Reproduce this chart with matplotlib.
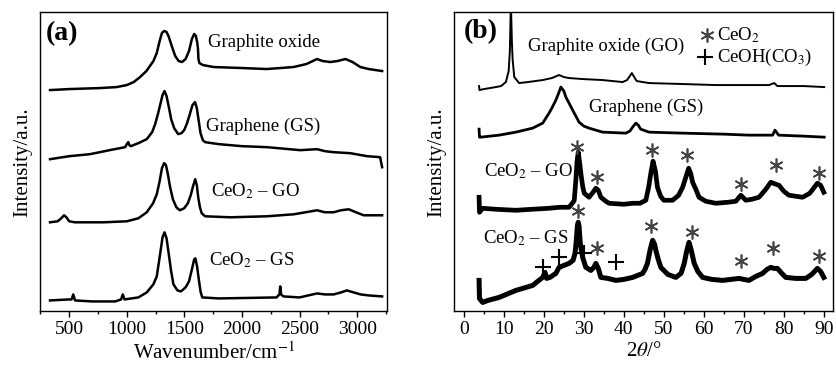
import matplotlib
matplotlib.use("Agg")
import matplotlib.pyplot as plt
from matplotlib.ticker import MultipleLocator

plt.rcParams['font.family'] = ['Liberation Serif', 'DejaVu Serif']
plt.rcParams['mathtext.fontset'] = 'stix'

# ---------------- (a) Raman spectra: (wavenumber, intensity a.u.) ----------------
go_raman_x = [333, 500, 767, 913, 1000, 1060, 1115, 1170, 1231, 1260, 1285, 1305, 1325, 1345,
              1365, 1390, 1420, 1450, 1480, 1510, 1540, 1565, 1585, 1600, 1612, 1618, 1622,
              1630, 1660, 1753, 2000, 2217, 2448, 2560, 2652, 2700, 2767, 2830, 2898, 2960,
              3028, 3100, 3217]
go_raman_y = [221, 222, 223, 224, 226, 229, 234, 240, 250, 258, 270, 278, 280, 279,
              274, 265, 255, 250, 249, 252, 260, 272, 277, 275, 268, 262, 252,
              248, 246, 244, 243, 242, 244, 247, 252, 250, 249, 250, 252, 249,
              244, 242, 240]

gs_raman_x = [333, 500, 680, 850, 985, 1005, 1013, 1022, 1035, 1100, 1173, 1220, 1246, 1270,
              1289, 1310, 1327, 1345, 1365, 1385, 1411, 1446, 1475, 1498, 1520, 1545, 1570,
              1592, 1608, 1622, 1640, 1660, 1680, 1800, 2000, 2217, 2507, 2652, 2720, 2796,
              2940, 3087, 3200, 3210, 3217]
gs_raman_y = [152, 155, 157, 161, 164, 168, 169, 166, 165, 168, 172, 179, 187, 197,
              206, 216, 220, 215, 204, 192, 183, 177, 178, 181, 187, 196, 206,
              209, 203, 192, 178, 171, 169, 167, 165, 164, 161, 162, 160, 159,
              158, 155, 154, 148, 144]

ceo2_go_raman_x = [333, 400, 430, 455, 475, 500, 550, 800, 1000, 1100, 1173, 1228, 1260, 1285,
                   1305, 1324, 1340, 1355, 1376, 1400, 1430, 1460, 1498, 1530, 1555, 1575,
                   1594, 1608, 1620, 1635, 1650, 1680, 1900, 2217, 2450, 2652, 2720, 2796,
                   2860, 2927, 2990, 3057, 3217]
ceo2_go_raman_y = [89, 90, 93, 96, 94, 90, 89, 89, 90, 93, 99, 108, 117, 130,
                   143, 148, 146, 138, 124, 112, 104, 101, 103, 108, 116, 125,
                   132, 126, 114, 104, 98, 95, 94, 95, 97, 101, 99, 99,
                   101, 102, 99, 96, 96]

ceo2_gs_raman_x = [333, 500, 520, 535, 550, 700, 900, 950, 965, 980, 1100, 1173, 1230, 1260,
                   1290, 1310, 1327, 1345, 1361, 1385, 1405, 1440, 1470, 1510, 1540, 1565,
                   1585, 1595, 1610, 1625, 1640, 1655, 1800, 2300, 2325, 2332, 2340, 2360,
                   2500, 2652, 2720, 2796, 2860, 2910, 2970, 3030, 3100, 3217]
ceo2_gs_raman_y = [11, 12, 12, 17, 11, 10, 10, 12, 17, 12, 14, 19, 27, 35,
                   58, 74, 79, 73, 60, 40, 27, 21, 20, 24, 30, 42,
                   52, 53, 45, 32, 20, 14, 13, 14, 17, 25, 17, 15,
                   14, 18, 17, 17, 19, 21, 19, 17, 16, 15]

# ---------------- (b) XRD patterns: (2theta, intensity a.u.) ----------------
go_xrd_x = [3.8, 3.9, 5, 8, 9.3, 10.5, 11.2, 11.5, 11.75, 12.0, 12.2, 12.6, 13.8, 16, 19.7,
            22, 23.8, 25, 26.3, 29.7, 34.7, 39.7, 40.8, 41.5, 42, 42.6, 43.2, 46.3, 55, 63,
            70, 76.3, 77.6, 78.4, 85, 90.1]
go_xrd_y = [225, 221, 222, 224, 225, 229, 240, 260, 310, 270, 251, 234, 228, 229, 231,
            233, 236, 234, 233, 232, 231, 229, 231, 235, 238, 234, 230, 228, 227, 226,
            226, 226, 228, 225, 225, 224]

gs_xrd_x = [3.8, 3.9, 4.25, 8.8, 13, 17.2, 19.7, 21.3, 22, 23, 23.7, 24.25, 25, 25.5, 26.3,
            27.2, 28.8, 30, 31.3, 34.7, 40.5, 41.5, 42.2, 43, 43.6, 44.2, 46.3, 54.7, 65,
            71.3, 77.2, 77.8, 78.7, 85, 90.1]
gs_xrd_y = [182, 174, 174, 176, 179, 183, 188, 198, 203, 211, 218, 224, 220, 214, 208,
            201, 189, 185, 183, 179, 178, 180, 184, 188, 186, 182, 179, 178, 177,
            176, 176, 181, 176, 175, 174]

ceo2_go_xrd_x = [3.8, 3.9, 4.7, 8, 13, 17, 21.3, 24, 26.3, 27.3, 27.6, 28, 28.3, 28.6, 28.9,
                 29.25, 29.7, 30.1, 31.3, 32.3, 33, 33.6, 34.25, 35.5, 36.3, 40, 42.2, 44,
                 45.5, 46.2, 46.75, 47.3, 47.9, 48.4, 49.2, 50, 52.2, 53.7, 54.7, 55.5, 56.2,
                 56.7, 57.2, 58, 58.8, 60.5, 63, 66, 68, 69.25, 70.5, 72, 73.8, 75.5, 76.75,
                 78, 78.8, 80, 81.3, 84.7, 86.5, 88.4, 89.2, 90]
ceo2_go_xrd_y = [114, 99, 103, 102, 101, 102, 103, 104, 104, 109, 111, 131, 150, 159, 150,
                 138, 125, 118, 114, 119, 123, 121, 114, 110, 108, 107, 108, 108,
                 111, 124, 138, 150, 140, 124, 115, 111, 111, 116, 124, 134, 143,
                 138, 129, 122, 114, 110, 108, 109, 110, 116, 111, 112, 114, 122, 129,
                 127, 126, 120, 116, 114, 118, 128, 126, 119]

ceo2_gs_xrd_x = [3.8, 3.9, 4.7, 6, 8.8, 13, 17.2, 19.7, 20.3, 20.7, 21.5, 23, 23.8, 26.3, 27.3,
                 27.8, 28.1, 28.4, 28.6, 28.8, 29.1, 29.7, 30.5, 31.75, 32.5, 33, 33.6, 34.25,
                 36, 38, 40, 42.2, 44.7, 45.3, 45.9, 46.6, 47.2, 47.7, 48, 48.6, 49.25, 51, 53,
                 54.3, 55.1, 55.7, 56.3, 56.8, 57.6, 58.5, 59.7, 62, 64.7, 68.8, 70, 71.3, 73,
                 74.7, 75.8, 76.75, 77.5, 78.4, 79.5, 80.5, 83, 85.5, 87, 88.4, 89.2, 90]
ceo2_gs_xrd_y = [31, 13, 9, 11, 14, 21, 26, 34, 39, 33, 34, 38, 44, 48, 51,
                 58, 70, 86, 89, 85, 68, 54, 44, 41, 44, 48, 43, 34,
                 33, 31, 32, 34, 38, 42, 48, 62, 71, 67, 61, 52, 44, 37, 34,
                 38, 48, 60, 69, 62, 48, 40, 34, 32, 31, 33, 32, 31, 35,
                 38, 42, 44, 43, 43, 38, 34, 33, 33, 37, 43, 40, 34]

# peak markers in (b)
ceo2_go_star_x = [28.4, 33.4, 47.0, 55.7, 69.25, 78.0, 88.8]
ceo2_go_star_y = [164, 134, 161, 156, 127, 146, 138]
ceo2_gs_star_x = [28.6, 33.25, 46.9, 57.0, 69.25, 77.3, 88.7]
ceo2_gs_star_y = [100, 63, 85, 79, 50, 63, 55]
ceo2_gs_plus_x = [19.7, 23.7, 30.1, 38.0]
ceo2_gs_plus_y = [44, 54, 58, 49]

fig = plt.figure(figsize=(8.36, 3.73), dpi=100)
ax1 = fig.add_axes([0.0484, 0.165, 0.4146, 0.803])
ax2 = fig.add_axes([0.5434, 0.165, 0.4530, 0.803])

for ax in (ax1, ax2):
    ax.set_ylim(0, 299)
    ax.set_yticks([])
    for s in ax.spines.values():
        s.set_linewidth(1.0)
    ax.tick_params(axis='x', which='major', direction='out', length=4, width=1.0,
                   labelsize=14, pad=3)
    ax.tick_params(axis='x', which='minor', direction='out', length=2.5, width=1.0)
    ax.set_ylabel('Intensity/a.u.', fontsize=15, labelpad=6)

# ---- panel (a)
for xs, ys in [(go_raman_x, go_raman_y), (gs_raman_x, gs_raman_y),
               (ceo2_go_raman_x, ceo2_go_raman_y), (ceo2_gs_raman_x, ceo2_gs_raman_y)]:
    ax1.plot(xs, ys, color='black', lw=1.8)
ax1.set_xlim(250, 3260)
ax1.xaxis.set_major_locator(MultipleLocator(500))
ax1.xaxis.set_minor_locator(MultipleLocator(250))
ax1.set_xlabel('Wavenumber/cm$^{-1}$', fontsize=15, labelpad=3)

t = ax1.transAxes
ax1.text(0.016, 0.929, '(a)', transform=t, fontsize=20, fontweight='bold', va='center')
ax1.text(0.484, 0.897, 'Graphite oxide', transform=t, fontsize=13.5, va='center')
ax1.text(0.478, 0.617, 'Graphene (GS)', transform=t, fontsize=13.5, va='center')
ax1.text(0.491, 0.40, 'CeO$_2$ – GO', transform=t, fontsize=13.5, va='center')
ax1.text(0.487, 0.172, 'CeO$_2$ – GS', transform=t, fontsize=13.5, va='center')

# ---- panel (b)
ax2.plot(go_xrd_x, go_xrd_y, color='black', lw=1.4)
ax2.plot(gs_xrd_x, gs_xrd_y, color='black', lw=2.0)
ax2.plot(ceo2_go_xrd_x, ceo2_go_xrd_y, color='black', lw=3.4)
ax2.plot(ceo2_gs_xrd_x, ceo2_gs_xrd_y, color='black', lw=3.6)
star = (6, 2, 0)
ax2.plot(ceo2_go_star_x, ceo2_go_star_y, ls='none', marker=star, ms=10, mew=1.2, color='#444444')
ax2.plot(ceo2_gs_star_x, ceo2_gs_star_y, ls='none', marker=star, ms=10, mew=1.2, color='#444444')
ax2.plot(ceo2_gs_plus_x, ceo2_gs_plus_y, ls='none', marker='+', ms=12, mew=1.5, color='black')
ax2.set_xlim(-2.4, 92.3)
ax2.xaxis.set_major_locator(MultipleLocator(10))
ax2.xaxis.set_minor_locator(MultipleLocator(5))
ax2.set_xlabel('2$\\theta$/°', fontsize=15, labelpad=3)

t = ax2.transAxes
ax2.text(0.0256, 0.934, '(b)', transform=t, fontsize=20, fontweight='bold', va='center')
ax2.text(0.1935, 0.884, 'Graphite oxide (GO)', transform=t, fontsize=13.5, va='center')
ax2.text(0.3565, 0.682, 'Graphene (GS)', transform=t, fontsize=13.5, va='center')
ax2.text(0.0784, 0.467, 'CeO$_2$ – GO', transform=t, fontsize=13.5, va='center')
ax2.text(0.075, 0.244, 'CeO$_2$ – GS', transform=t, fontsize=13.5, va='center')
ax2.plot([0.666], [0.923], transform=t, ls='none', marker=star, ms=10, mew=1.2, color='#444444')
ax2.plot([0.662], [0.849], transform=t, ls='none', marker='+', ms=12, mew=1.5, color='black')
ax2.text(0.694, 0.923, 'CeO$_2$', transform=t, fontsize=13.5, va='center')
ax2.text(0.694, 0.849, 'CeOH(CO$_3$)', transform=t, fontsize=13.5, va='center')

fig.savefig('out.png', dpi=100)
